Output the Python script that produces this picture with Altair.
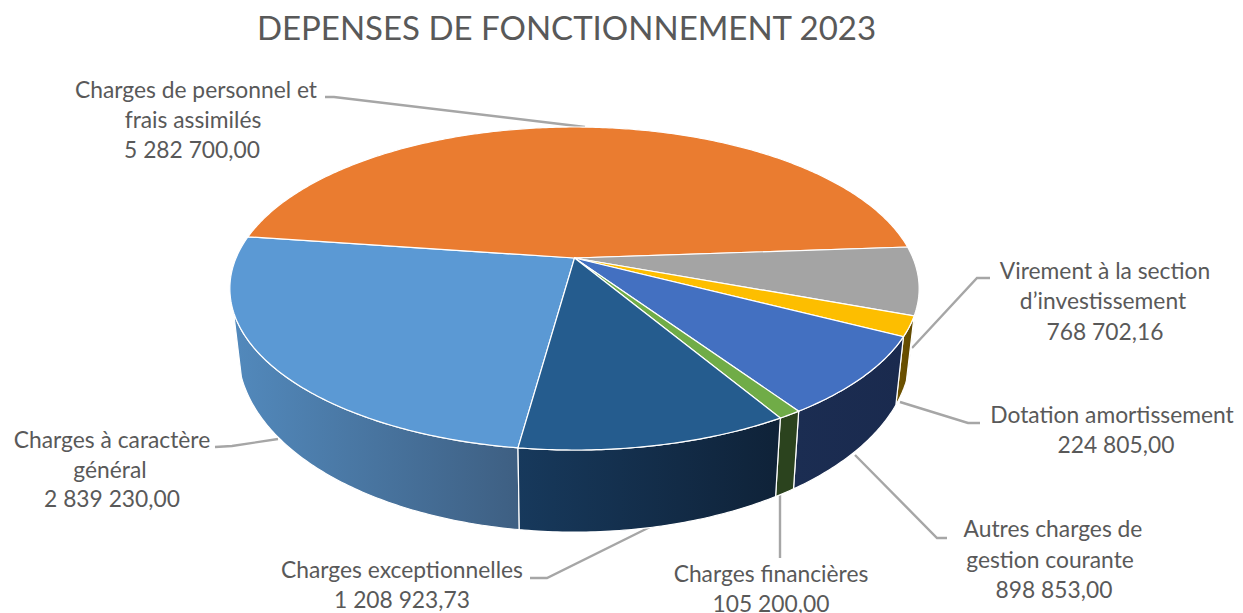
import math
import altair as alt
import pandas as pd

TITLE = "DEPENSES DE FONCTIONNEMENT 2023"
# clockwise order, starting from the first slice
categories = ["Charges à caractère général", "Charges de personnel et frais assimilés",
              "Virement à la section d’investissement", "Dotation amortissement",
              "Autres charges de gestion courante", "Charges financières", "Charges exceptionnelles"]
values = [2839230.00, 5282700.00, 768702.16, 224805.00, 898853.00, 105200.00, 1208923.73]
top_colors = ["#5B99D4", "#EA7C30", "#A4A4A4", "#FDBE00", "#4370C1", "#70AC47", "#255C8E"]
wall_left = ["#5289BC", "#ED7D31", "#585858", "#705400", "#1B2D52", "#2B431E", "#17395C"]
wall_right = ["#3E5F82", "#ED7D31", "#585858", "#604800", "#1A2A4E", "#2B431E", "#0F2238"]
FIRST_ANGLE = 187.8

label_x = [1105, 1103, 1105, 1112, 1116, 1053, 1050, 1054, 771, 771, 402, 402, 112, 110, 112, 196, 193, 192]
label_y = [272, 302, 333, 416, 446, 530, 561, 591, 575, 605, 571, 601, 441, 471, 500, 91, 121, 151]
label_text = ["Virement à la section", "d’investissement", "768 702,16",
              "Dotation amortissement", "224 805,00",
              "Autres charges de", "gestion courante", "898 853,00",
              "Charges financières", "105 200,00",
              "Charges exceptionnelles", "1 208 923,73",
              "Charges à caractère", "général", "2 839 230,00",
              "Charges de personnel et", "frais assimilés", "5 282 700,00"]

leaders = [
    [(325, 97), (334, 97), (585, 127)],
    [(990, 278), (977, 278), (912, 348)],
    [(980, 423), (968, 423), (900, 402)],
    [(947, 538), (937, 538), (855, 455)],
    [(780, 495), (780, 558)],
    [(650, 527), (547, 578), (530, 578)],
    [(215, 447), (232, 446), (278, 439)],
]

CX, CY = 574.5, 258
D, KX, KY = 5.295, 1792, 824.7
VIS_A, VIS_B = 109.0, 251.0


def top(phi):
    x, y = math.sin(math.radians(phi)), math.cos(math.radians(phi))
    return CX + KX * x / (D + y), CY - KY * y / (D + y)


def bottom(phi):
    X, Y = top(phi)
    y = math.cos(math.radians(phi))
    return CX + 0.977 * (X - CX), Y + 56.5 - 25.6 * y


def arc(a, b, f):
    n = max(2, int(abs(b - a) * 1.5) + 1)
    return [f(a + (b - a) * i / (n - 1)) for i in range(n)]


W, H, PAD_TOP = 1227, 563, 42
xs = alt.Scale(domain=[8, 1235], range=[0, W])
ys = alt.Scale(domain=[613, 50], range=[H, 0])
X = alt.X("x:Q", scale=xs, axis=None)
Y = alt.Y("y:Q", scale=ys, axis=None)


def poly_layer(pts, **mark):
    df = pd.DataFrame({"x": [p[0] for p in pts], "y": [p[1] for p in pts], "i": range(len(pts))})
    return alt.Chart(df).mark_line(interpolate="linear-closed", clip=False, **mark).encode(
        x=X, y=Y, order=alt.Order("i:Q"))


total = sum(values)
spans = []
a = FIRST_ANGLE
for v in values:
    b = a + v / total * 360
    spans.append((a, b))
    a = b

layers = []
# leader lines
for pts in leaders:
    df = pd.DataFrame({"x": [p[0] for p in pts], "y": [p[1] for p in pts], "i": range(len(pts))})
    layers.append(alt.Chart(df).mark_line(color="#A6A6A6", strokeWidth=2.4).encode(
        x=X, y=Y, order=alt.Order("i:Q")))

# side walls
for k, (a, b) in enumerate(spans):
    for shift in (0, 360, -360):
        lo, hi = max(a + shift, VIS_A), min(b + shift, VIS_B)
        if hi > lo:
            pts = arc(lo, hi, top) + arc(hi, lo, bottom)
            fill = {"gradient": "linear", "x1": 0, "x2": 1, "y1": 0, "y2": 0,
                    "stops": [{"offset": 0, "color": wall_left[k]},
                              {"offset": 1, "color": wall_right[k]}]}
            layers.append(poly_layer(pts, fill=fill, stroke="#FFFFFF", strokeWidth=1.2))

# top faces
for k, (a, b) in enumerate(spans):
    pts = [(CX, CY)] + arc(a, b, top)
    layers.append(poly_layer(pts, fill=top_colors[k], stroke="#FFFFFF", strokeWidth=1.2))

labels = pd.DataFrame({"x": label_x, "y": label_y, "t": label_text})
layers.append(alt.Chart(labels).mark_text(font="Lato", fontSize=22.8, color="#595959",
                                          align="center", baseline="middle").encode(
    x=X, y=Y, text="t:N"))

chart = alt.layer(*layers).properties(
    width=W, height=H,
    padding={"left": 0, "top": PAD_TOP, "right": 0, "bottom": 0},
    autosize=alt.AutoSizeParams(type="none"),
    title=alt.Title(TITLE, font="Lato", fontSize=33, fontWeight="normal", color="#595959",
                    anchor="middle", frame="group", dx=-55, offset=-30, baseline="bottom"),
).configure_view(stroke=None)

chart.save("out.html", embed_options={"renderer": "svg", "actions": False})
